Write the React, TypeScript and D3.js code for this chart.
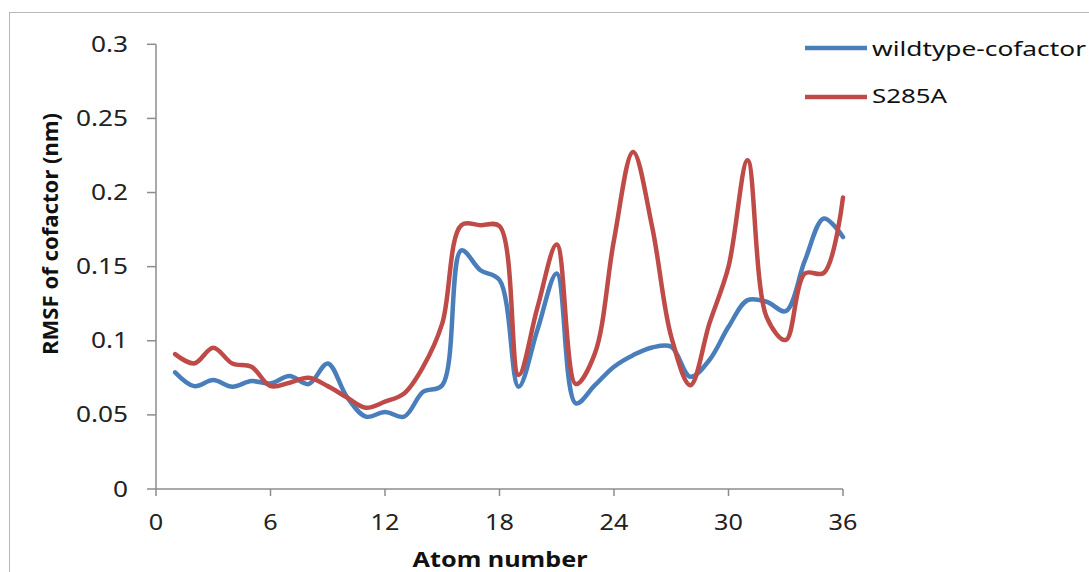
import React from "react";
import * as d3 from "d3";

const atoms = [1,2,3,4,5,6,7,8,9,10,11,12,13,14,15,16,17,18,19,20,21,22,23,24,25,26,27,28,29,30,31,32,33,34,35,36];
const wildtype = [0.0787,0.0694,0.0735,0.069,0.0728,0.0712,0.0762,0.0708,0.0847,0.0622,0.0488,0.052,0.0488,0.0656,0.070,0.161,0.1476,0.141,0.069,0.108,0.1454,0.0578,0.070,0.0825,0.0903,0.0955,0.096,0.0757,0.087,0.1094,0.1274,0.1263,0.120,0.154,0.1825,0.170];
const s285a = [0.091,0.0847,0.0953,0.0847,0.0825,0.0694,0.0717,0.075,0.0694,0.0618,0.0548,0.0589,0.0645,0.0825,0.1117,0.178,0.178,0.1773,0.0769,0.123,0.165,0.0708,0.0915,0.168,0.2274,0.1768,0.1027,0.070,0.1117,0.150,0.2218,0.116,0.1005,0.1454,0.1458,0.1967];
const xTicks = [0,6,12,18,24,30,36];
const yTicks = [0,0.05,0.1,0.15,0.2,0.25,0.3];
const yTickLabels = ["0","0.05","0.1","0.15","0.2","0.25","0.3"];
const seriesNames = ["wildtype-cofactor","S285A"];
const colors = ["#4A7EBB","#BE4B48"];

export default function App() {
  const x = d3.scaleLinear().domain([0,36]).range([156,843]);
  const y = d3.scaleLinear().domain([0,0.3]).range([489,44.3]);
  const line = d3.line<number>()
    .x((_, i) => x(atoms[i]))
    .y((d) => y(d))
    .curve(d3.curveCatmullRom.alpha(0.5));
  const series = [wildtype, s285a];
  const font = "'Noto Sans', 'Open Sans', sans-serif";
  const axisColor = "#8c8c8c";
  return (
    <svg width={1089} height={572} style={{position:"absolute",left:0,top:0,background:"#fff"}} fontFamily={font}>
      <rect x={9.5} y={12.5} width={1100} height={600} fill="#fff" stroke="#b8b8b8" strokeWidth={1}/>
      {/* y axis */}
      <line x1={156} x2={156} y1={y(0.3)} y2={y(0)} stroke={axisColor} strokeWidth={1.5}/>
      {yTicks.map((t, i) => (
        <g key={"yt"+i}>
          <line x1={147} x2={156} y1={y(t)} y2={y(t)} stroke={axisColor} strokeWidth={1.5}/>
          <g transform={`translate(128,${y(t)+7.5}) scale(1.25,1)`}>
            <text textAnchor="end" fontSize={21} fill="#222">{yTickLabels[i]}</text>
          </g>
        </g>
      ))}
      {/* x axis */}
      <line x1={x(0)} x2={x(36)} y1={489} y2={489} stroke={axisColor} strokeWidth={1.5}/>
      {xTicks.map((t, i) => (
        <g key={"xt"+i}>
          <line x1={x(t)} x2={x(t)} y1={489} y2={496} stroke={axisColor} strokeWidth={1.5}/>
          <g transform={`translate(${x(t)},530) scale(1.2,1)`}>
            <text textAnchor="middle" fontSize={21} fill="#222">{t}</text>
          </g>
        </g>
      ))}
      {/* series */}
      {series.map((s, i) => (
        <path key={"s"+i} d={line(s) || ""} fill="none" stroke={colors[i]} strokeWidth={4.5} strokeLinejoin="round" strokeLinecap="round"/>
      ))}
      {/* axis titles */}
      <text x={500} y={567} textAnchor="middle" fontSize={22} fontWeight="bold" fill="#111" textLength={175} lengthAdjust="spacingAndGlyphs">Atom number</text>
      <text transform="translate(58,234) rotate(-90)" textAnchor="middle" fontSize={22} fontWeight="bold" fill="#111" textLength={242} lengthAdjust="spacingAndGlyphs">RMSF of cofactor (nm)</text>
      {/* legend */}
      {seriesNames.map((n, i) => (
        <g key={"lg"+i}>
          <line x1={805} x2={867} y1={i === 0 ? 48 : 97} y2={i === 0 ? 48 : 97} stroke={colors[i]} strokeWidth={4.5}/>
          <text x={872} y={i === 0 ? 56 : 103} fontSize={20} fill="#111" textLength={i === 0 ? 214 : 75} lengthAdjust="spacingAndGlyphs">{n}</text>
        </g>
      ))}
    </svg>
  );
}
